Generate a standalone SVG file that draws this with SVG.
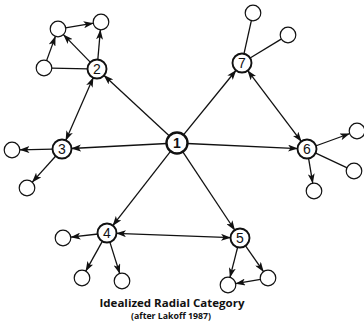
<svg xmlns="http://www.w3.org/2000/svg" width="364" height="326" viewBox="0 0 364 326">
  <defs>
    <marker id="arrow" markerUnits="userSpaceOnUse" markerWidth="10" markerHeight="7" refX="10" refY="3.5" orient="auto-start-reverse">
      <path d="M0,0 L10,3.5 L0,7 L2.5,3.5 Z" fill="#111"/>
    </marker>
  </defs>
  <style>
    .edge { stroke: #111; stroke-width: 1.3; fill: none; }
    .arr { marker-end: url(#arrow); }
    .both { marker-start: url(#arrow); marker-end: url(#arrow); }
    .leaf { fill: #fff; stroke: #111; stroke-width: 1.2; }
    .node { fill: #fff; stroke: #111; stroke-width: 1.9; }
    .hub { fill: #fff; stroke: #111; stroke-width: 2.4; }
    .num { font-family: "Liberation Sans", Arial, sans-serif; font-size: 14px; fill: #111; text-anchor: middle; }
    .cap { font-family: "Open Sans", "Liberation Sans", sans-serif; font-weight: bold; fill: #111; text-anchor: middle; }
  </style>
  <rect width="364" height="326" fill="#fff"/>

  <g id="connectors">
    <!-- hub to numbered nodes -->
    <line class="edge arr" x1="169.7" y1="136.2" x2="103.6" y2="75.1"/>
    <line class="edge arr" x1="167.0" y1="143.5" x2="71.0" y2="148.5"/>
    <line class="edge arr" x1="170.9" y1="150.9" x2="112.5" y2="225.9"/>
    <line class="edge arr" x1="182.5" y1="151.3" x2="235.0" y2="230.5"/>
    <line class="edge arr" x1="187.0" y1="143.5" x2="298.0" y2="148.6"/>
    <line class="edge arr" x1="183.3" y1="135.2" x2="236.3" y2="70.0"/>
    <!-- links between numbered nodes -->
    <line class="edge both" x1="93.4" y1="77.2" x2="65.6" y2="140.8"/>
    <line class="edge both" x1="247.4" y1="70.2" x2="301.6" y2="141.8"/>
    <line class="edge both" x1="116.0" y1="233.3" x2="231.0" y2="237.7"/>
    <!-- node 2 cluster -->
    <line class="edge arr" x1="90.7" y1="62.6" x2="63.2" y2="34.4"/>
    <line class="edge arr" x1="97.8" y1="60.0" x2="100.4" y2="29.5"/>
    <line class="edge arr" x1="65.4" y1="27.8" x2="93.6" y2="23.2"/>
    <line class="edge arr" x1="46.5" y1="60.9" x2="55.5" y2="36.1"/>
    <line class="edge" x1="51.5" y1="68.1" x2="88.0" y2="68.8"/>
    <!-- node 3 leaves -->
    <line class="edge arr" x1="53.0" y1="149.2" x2="19.5" y2="149.8"/>
    <line class="edge arr" x1="56.0" y1="155.7" x2="32.0" y2="182.4"/>
    <!-- node 7 leaves -->
    <line class="edge" x1="243.9" y1="54.2" x2="251.4" y2="20.3"/>
    <line class="edge" x1="249.7" y1="58.3" x2="281.6" y2="38.9"/>
    <!-- node 6 leaves -->
    <line class="edge arr" x1="315.5" y1="146.0" x2="349.9" y2="133.5"/>
    <line class="edge" x1="315.2" y1="152.8" x2="347.2" y2="167.8"/>
    <line class="edge arr" x1="308.5" y1="157.9" x2="312.8" y2="183.6"/>
    <!-- node 4 leaves -->
    <line class="edge arr" x1="98.1" y1="234.0" x2="70.5" y2="237.2"/>
    <line class="edge arr" x1="102.6" y1="240.9" x2="85.6" y2="271.4"/>
    <line class="edge arr" x1="109.7" y1="241.6" x2="119.8" y2="273.8"/>
    <!-- node 5 leaves -->
    <line class="edge arr" x1="237.8" y1="246.7" x2="229.9" y2="277.7"/>
    <line class="edge arr" x1="245.2" y1="245.4" x2="263.7" y2="271.9"/>
    <line class="edge arr" x1="260.6" y1="279.3" x2="235.4" y2="283.7"/>
  </g>

  <g id="leaves">
    <circle class="leaf" cx="58" cy="29" r="7.8"/>
    <circle class="leaf" cx="101" cy="22" r="7.8"/>
    <circle class="leaf" cx="44" cy="68" r="7.8"/>
    <circle class="leaf" cx="12" cy="150" r="7.8"/>
    <circle class="leaf" cx="27" cy="188" r="7.8"/>
    <circle class="leaf" cx="253" cy="13" r="7.8"/>
    <circle class="leaf" cx="288" cy="35" r="7.8"/>
    <circle class="leaf" cx="357" cy="131" r="7.8"/>
    <circle class="leaf" cx="354" cy="171" r="7.8"/>
    <circle class="leaf" cx="314" cy="191" r="7.8"/>
    <circle class="leaf" cx="63" cy="238" r="7.8"/>
    <circle class="leaf" cx="82" cy="278" r="7.8"/>
    <circle class="leaf" cx="122" cy="281" r="7.8"/>
    <circle class="leaf" cx="228" cy="285" r="7.8"/>
    <circle class="leaf" cx="268" cy="278" r="7.8"/>
  </g>

  <g id="node1"><circle class="hub" cx="177" cy="143" r="10.5"/><text class="num" x="177" y="148" font-weight="bold">1</text></g>
  <g id="node2"><circle class="node" cx="97" cy="69" r="9.5"/><text class="num" x="97" y="74">2</text></g>
  <g id="node3"><circle class="node" cx="62" cy="149" r="9.5"/><text class="num" x="62" y="154">3</text></g>
  <g id="node4"><circle class="node" cx="107" cy="233" r="9.5"/><text class="num" x="107" y="238">4</text></g>
  <g id="node5"><circle class="node" cx="240" cy="238" r="9.5"/><text class="num" x="240" y="243">5</text></g>
  <g id="node6"><circle class="node" cx="307" cy="149" r="9.5"/><text class="num" x="307" y="154">6</text></g>
  <g id="node7"><circle class="node" cx="242" cy="63" r="9.5"/><text class="num" x="242" y="68">7</text></g>

  <g id="caption">
    <text class="cap" x="172" y="307" font-size="10.5" textLength="145" lengthAdjust="spacingAndGlyphs">Idealized Radial Category</text>
    <text class="cap" x="171" y="319" font-size="8" textLength="80" lengthAdjust="spacingAndGlyphs">(after Lakoff 1987)</text>
  </g>
</svg>
